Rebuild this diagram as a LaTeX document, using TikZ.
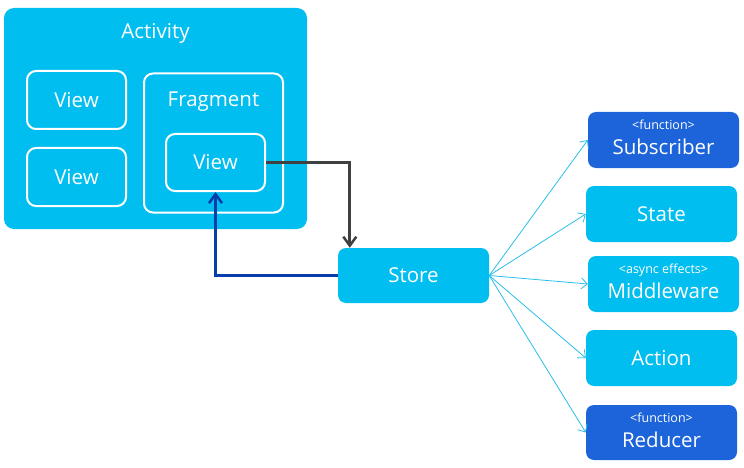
\documentclass[tikz,border=0pt]{standalone}
\usepackage{fontspec}
\setmainfont{Open Sans}
\usetikzlibrary{arrows.meta}
\definecolor{cyanbox}{RGB}{0,190,239}
\definecolor{darkbox}{RGB}{29,100,219}
\definecolor{arrdark}{RGB}{64,64,64}
\definecolor{arrblue}{RGB}{8,62,170}
\definecolor{fanline}{RGB}{40,190,235}
\tikzset{
  bigbox/.style={fill=cyanbox, rounded corners=10pt, inner sep=0pt},
  outlinebox/.style={draw=white, line width=2pt, rounded corners=9pt, inner sep=0pt},
  solidbox/.style={fill=cyanbox, rounded corners=8pt, inner sep=0pt, minimum width=151pt, minimum height=56pt, text=white, font=\fontsize{20.5}{22}\selectfont, align=center},
  funcbox/.style={solidbox, fill=darkbox},
  lbl/.style={text=white, font=\fontsize{20.5}{22}\selectfont, inner sep=0pt},
  fan/.style={draw=fanline, line width=0.8pt, -{Straight Barb[length=6pt,width=11pt]}},
  thick arrow/.style={line width=2.7pt, -{Straight Barb[length=9pt,width=13pt,line width=2.5pt]}}
}
\newcommand{\smalltag}[1]{{\fontsize{12.5}{13}\selectfont #1}}
\begin{document}
\begin{tikzpicture}[x=1pt,y=-1pt]
\useasboundingbox (0,0) rectangle (744,468);
% Activity
\node[bigbox, minimum width=303pt, minimum height=221pt] (act) at (155.5,118.5) {};
\node[lbl, anchor=base] (actlbl) at (155.5,39) {Activity};
\node[outlinebox, minimum width=99pt, minimum height=58pt, lbl] (v1) at (76.5,100) {View};
\node[outlinebox, minimum width=99pt, minimum height=58pt, lbl] (v2) at (76.5,177) {View};
\node[outlinebox, minimum width=139pt, minimum height=139pt] (frag) at (213.5,143) {};
\node[lbl, anchor=base] (fraglbl) at (213.5,107) {Fragment};
\node[outlinebox, minimum width=99pt, minimum height=57pt, lbl] (vf) at (215.5,162.5) {View};
% Store
\node[solidbox, minimum height=55pt] (store) at (413.5,275.5) {Store};
% right column
\node[funcbox, text depth=5pt] (sub) at (663.5,140) {\smalltag{<function>}\\[3pt]Subscriber};
\node[solidbox] (state) at (661.5,214) {State};
\node[solidbox, text depth=5pt] (mid) at (663.5,284) {\smalltag{<async effects>}\\[3pt]Middleware};
\node[solidbox] (action) at (661.5,358) {Action};
\node[funcbox, minimum height=55pt, text depth=5pt] (red) at (661.5,432.5) {\smalltag{<function>}\\[3pt]Reducer};
% connectors
\draw[thick arrow, draw=arrdark] (vf.east) -| ([xshift=12pt]store.north west);
\draw[thick arrow, draw=arrblue, line width=2.2pt] (store.west) -| (vf.south);
\foreach \t in {sub,state,mid,action,red}
  \draw[fan] (store.east) -- (\t.west);
\end{tikzpicture}
\end{document}
